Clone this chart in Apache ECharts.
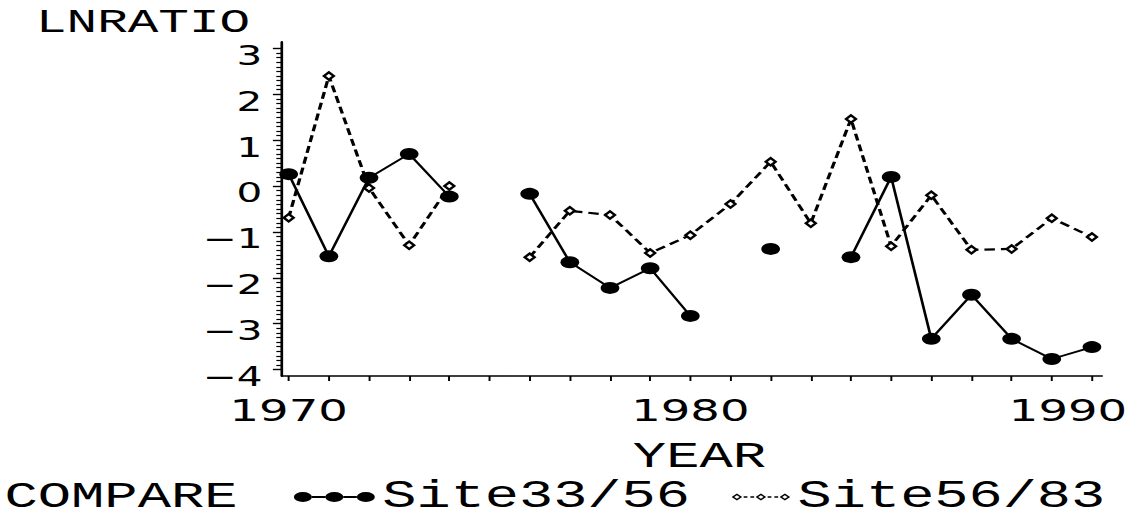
<!DOCTYPE html>
<html>
<head>
<meta charset="utf-8">
<script src="https://cdn.jsdelivr.net/npm/echarts@6/dist/echarts.min.js"></script>
<style>
html, body { margin: 0; padding: 0; background: #fff; overflow: hidden; }
/* the original plot is stretched sideways, so draw narrow and widen it */
#chart { width: 757px; height: 519px; transform: scaleX(1.4993); transform-origin: 0 0; }
</style>
</head>
<body>
<div id="chart"></div>
<script>
// values, null = no point that year
var years = [1970, 1971, 1972, 1973, 1974, 1975, 1976, 1977, 1978, 1979, 1980,
             1981, 1982, 1983, 1984, 1985, 1986, 1987, 1988, 1989, 1990];
var site33 = [0.26, -1.53, 0.18, 0.70, -0.23, null, -0.17, -1.66, -2.22, -1.79, -2.83,
              null, -1.37, null, -1.55, 0.20, -3.33, -2.37, -3.33, -3.77, -3.51];
var site56 = [-0.69, 2.40, -0.04, -1.29, 0.0, null, -1.55, -0.54, -0.63, -1.46, -1.07,
              -0.39, 0.53, -0.81, 1.46, -1.31, -0.20, -1.39, -1.37, -0.70, -1.11];
var xLabelYears = [1970, 1980, 1990];
var yLabelValues = [-4, -3, -2, -1, 0, 1, 2, 3];

// minor ticks every 0.1 on the y axis
var yMinorTicks = [];
for (var i = -40; i <= 30; i++) {
    if (i % 10 !== 0) yMinorTicks.push(i / 10);
}

function pairs(vals) {
    return years.map(function (y, k) {
        return [y, vals[k] == null ? '-' : vals[k]];
    });
}

var labelFont = 'DejaVu Sans';
var monoFont = 'Liberation Mono';

// legend icons: three dots on a line, three diamonds on a dashed line
function dot(cx) {
    return 'M' + (cx - 6) + ',5A6,5,0,1,0,' + (cx + 6) + ',5A6,5,0,1,0,' + (cx - 6) + ',5Z';
}
var iconDots = 'path://' + dot(6) + dot(27) + dot(48)
    + 'M12,4L21,4L21,6L12,6Z'
    + 'M33,4L42,4L42,6L33,6Z';

function diamond(cx) {
    return 'M' + (cx - 3.5) + ',3.5L' + cx + ',0L' + (cx + 3.5) + ',3.5L' + cx + ',7Z'
        + 'M' + (cx - 1.8) + ',3.5L' + cx + ',5.3L' + (cx + 1.8) + ',3.5L' + cx + ',1.7Z';
}
var iconDiamonds = 'path://' + diamond(3.5) + diamond(19.5) + diamond(35.5)
    + 'M8,2.8L10.5,2.8L10.5,4.2L8,4.2Z M12.5,2.8L15,2.8L15,4.2L12.5,4.2Z'
    + 'M24,2.8L26.5,2.8L26.5,4.2L24,4.2Z M28.5,2.8L31,2.8L31,4.2L28.5,4.2Z';

var myChart = echarts.init(document.getElementById('chart'), null, { renderer: 'svg' });

var option = {
    animation: false,
    backgroundColor: '#fff',
    grid: {
        left: 188,
        right: 22,
        top: 42,
        bottom: 143
    },
    graphic: [
        {
            type: 'text', left: 24, top: 6,
            style: { text: 'LNRATIO', font: '34px "Liberation Mono"', fill: '#000' }
        },
        {
            type: 'text', left: 3, top: 479,
            style: { text: 'COMPARE', font: '37px "Liberation Mono"', fill: '#000' }
        }
    ],
    legend: [
        {
            left: 196, top: 478, padding: 0, itemGap: 0,
            itemWidth: 54, itemHeight: 10,
            selectedMode: false,
            textStyle: { fontFamily: monoFont, fontSize: 38, color: '#000' },
            data: [{ name: 'Site33/56', icon: iconDots }]
        },
        {
            left: 488, top: 478, padding: 0, itemGap: 0,
            itemWidth: 39, itemHeight: 7,
            selectedMode: false,
            textStyle: { fontFamily: monoFont, fontSize: 38, color: '#000' },
            data: [{ name: 'Site56/83', icon: iconDiamonds }]
        }
    ],
    xAxis: {
        type: 'value',
        min: 1969.83,
        max: 1990.25,
        name: 'YEAR',
        nameLocation: 'middle',
        nameGap: 63,
        nameTextStyle: { fontFamily: monoFont, fontSize: 37, color: '#000', padding: [0, 0, 0, 10] },
        axisLine: { onZero: false, lineStyle: { color: '#000', width: 1.6 } },
        axisTick: { customValues: years, length: 5, lineStyle: { color: '#000', width: 1.3 } },
        axisLabel: {
            customValues: xLabelYears,
            margin: 19,
            color: '#000',
            fontFamily: labelFont,
            fontSize: 31,
            formatter: function (v) {
                return v === 1990 ? '{r|' + v + '}' : String(v);
            },
            rich: {
                r: { padding: [0, 32, 0, 0], fontFamily: labelFont, fontSize: 31, color: '#000' }
            }
        },
        splitLine: { show: false }
    },
    yAxis: [
        {
            type: 'value',
            position: 'left',
            min: -4.14,
            max: 3.14,
            axisLine: { show: true, onZero: false, lineStyle: { color: '#000', width: 1.6 } },
            axisTick: { customValues: yLabelValues, length: 6, lineStyle: { color: '#000', width: 1.4 } },
            axisLabel: {
                customValues: yLabelValues,
                margin: 13,
                color: '#000',
                fontFamily: labelFont,
                fontSize: 27,
                verticalAlign: 'top',
                lineHeight: 14,
                formatter: function (v) {
                    return String(v).replace('-', '\u2212');
                }
            },
            splitLine: { show: false }
        },
        {
            // minor ticks only
            type: 'value',
            position: 'left',
            min: -4.14,
            max: 3.14,
            axisLine: { show: true, onZero: false, lineStyle: { color: '#000', width: 1.6 } },
            axisTick: { customValues: yMinorTicks, length: 3.7, lineStyle: { color: '#000', width: 1.2 } },
            axisLabel: { show: false },
            splitLine: { show: false }
        }
    ],
    series: [
        {
            name: 'Site33/56',
            type: 'line',
            data: pairs(site33),
            connectNulls: false,
            showAllSymbol: true,
            symbol: 'circle',
            symbolSize: [12.5, 12],
            itemStyle: { color: '#000' },
            lineStyle: { color: '#000', width: 1.8 },
            z: 3
        },
        {
            name: 'Site56/83',
            type: 'line',
            data: pairs(site56),
            connectNulls: false,
            showAllSymbol: true,
            symbol: 'emptyDiamond',
            symbolSize: [6.5, 7.5],
            itemStyle: { color: '#000', borderWidth: 1.4 },
            lineStyle: { color: '#000', width: 2.2, type: [7, 4] },
            z: 2
        }
    ]
};

myChart.setOption(option);
</script>
</body>
</html>
